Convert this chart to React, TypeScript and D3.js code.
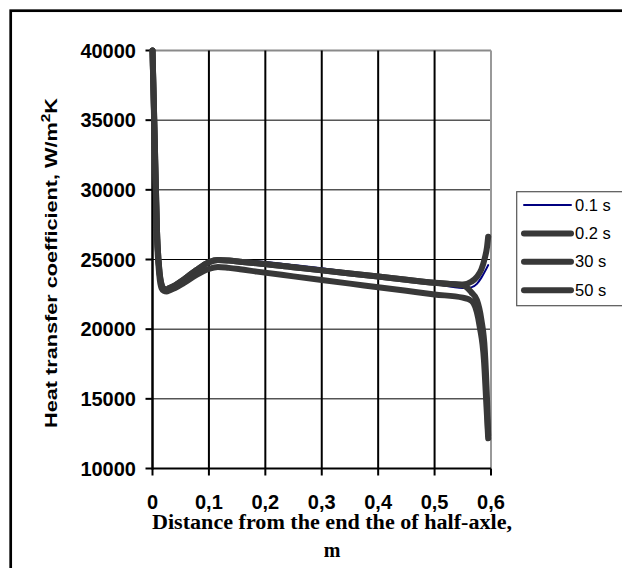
import React from "react";
import * as d3 from "d3";

// ---------- data ----------
const xTicks = [0, 0.1, 0.2, 0.3, 0.4, 0.5, 0.6];
const xTickLabels = ["0", "0,1", "0,2", "0,3", "0,4", "0,5", "0,6"];
const yTicks = [10000, 15000, 20000, 25000, 30000, 35000, 40000];

const distBase = [0, 0.004, 0.008, 0.012, 0.016, 0.02, 0.025, 0.03, 0.04, 0.055, 0.078, 0.1, 0.116, 0.135, 0.155, 0.185, 0.25, 0.3, 0.35, 0.4, 0.45, 0.5, 0.55];

const s01Base = [40000, 33500, 27000, 24300, 23200, 22900, 22850, 22950, 23150, 23550, 24250, 24800, 24980, 24960, 24930, 24870, 24600, 24370, 24110, 23830, 23540, 23250, 22950];
const s01TailX = [0.565, 0.575, 0.583, 0.59, 0.595];
const s01TailY = [23000, 23250, 23700, 24200, 24600];

const s02Base = [40000, 33500, 27000, 24300, 23200, 22900, 22850, 22950, 23150, 23550, 24250, 24800, 24960, 24920, 24840, 24730, 24440, 24220, 24000, 23780, 23550, 23330, 23200];
const s02TailX = [0.565, 0.575, 0.583, 0.589, 0.593, 0.595];
const s02TailY = [23400, 23750, 24300, 25100, 25900, 26640];

const s30Base = [40000, 33500, 27000, 24300, 23200, 22900, 22850, 22950, 23150, 23550, 24250, 24800, 24960, 24920, 24840, 24730, 24440, 24220, 24000, 23780, 23550, 23330, 23150];
const s30TailX = [0.557, 0.565, 0.575, 0.583, 0.589, 0.593, 0.595];
const s30TailY = [23000, 22650, 22090, 20660, 18500, 14920, 12400];

const s50Base = [40000, 33000, 26500, 23900, 22950, 22750, 22700, 22780, 22950, 23300, 23900, 24330, 24470, 24400, 24300, 24130, 23790, 23530, 23270, 23010, 22750, 22490, 22260];
const s50TailX = [0.56, 0.569, 0.58, 0.5875, 0.592, 0.595];
const s50TailY = [22150, 21860, 20180, 17790, 14440, 12170];

const seriesNames = ["0.1 s", "0.2 s", "30 s", "50 s"];
const seriesColors = ["#000080", "#383838", "#383838", "#383838"];
const seriesWidths = [2, 6, 6, 6];

type Pt = [number, number];
const build = (bx: number[], by: number[], tx: number[], ty: number[]): Pt[] =>
  bx.map((x, i) => [x, by[i]] as Pt).concat(tx.map((x, i) => [x, ty[i]] as Pt));

const seriesData: Pt[][] = [
  build(distBase, s01Base, s01TailX, s01TailY),
  build(distBase, s02Base, s02TailX, s02TailY),
  build(distBase, s30Base, s30TailX, s30TailY),
  build(distBase, s50Base, s50TailX, s50TailY),
];

// ---------- layout ----------
const W = 622;
const H = 568;
const L = 152.5, R = 491, T = 50.5, B = 468.5;

export default function App() {
  const x = d3.scaleLinear().domain([0, 0.6]).range([L, R]);
  const y = d3.scaleLinear().domain([10000, 40000]).range([B, T]);
  const line = d3
    .line<Pt>()
    .x((d) => x(d[0]))
    .y((d) => y(d[1]))
    .curve(d3.curveMonotoneX);

  const sans = "'Liberation Sans', Arial, sans-serif";
  const serif = "'Liberation Serif', 'Times New Roman', serif";

  return (
    <svg
      width={W}
      height={H}
      style={{ position: "absolute", left: 0, top: 0, background: "#fff" }}
    >
      <rect x={0} y={0} width={W} height={H} fill="#fff" />
      {/* outer frame */}
      <rect x={10.7} y={10.7} width={800} height={800} fill="none" stroke="#000" strokeWidth={2.7} />

      {/* horizontal gridlines */}
      {yTicks.slice(1, -1).map((t) => (
        <line key={"hg" + t} x1={L} x2={R} y1={y(t)} y2={y(t)} stroke="#000" strokeWidth={1} />
      ))}
      {/* top plot border */}
      <line x1={L} x2={R} y1={y(40000)} y2={y(40000)} stroke="#8a8a8a" strokeWidth={2} />
      {/* vertical gridlines */}
      {xTicks.slice(1, -1).map((t) => (
        <line key={"vg" + t} x1={x(t)} x2={x(t)} y1={T} y2={B} stroke="#000" strokeWidth={2} />
      ))}
      {/* right plot border */}
      <line x1={x(0.6)} x2={x(0.6)} y1={T} y2={B} stroke="#999" strokeWidth={2} />

      {/* axes */}
      <line x1={L} x2={R} y1={B} y2={B} stroke="#000" strokeWidth={2} />
      <line x1={L} x2={L} y1={T - 1} y2={B + 1} stroke="#000" strokeWidth={2.5} />
      {yTicks.map((t) => (
        <line key={"yt" + t} x1={L - 7} x2={L} y1={y(t)} y2={y(t)} stroke="#000" strokeWidth={2} />
      ))}
      {xTicks.map((t) => (
        <line key={"xt" + t} x1={x(t)} x2={x(t)} y1={B} y2={B + 7} stroke="#000" strokeWidth={2} />
      ))}

      {/* tick labels */}
      {yTicks.map((t) => (
        <text
          key={"yl" + t}
          x={136}
          y={y(t) + 7}
          textAnchor="end"
          fontFamily={sans}
          fontWeight="bold"
          fontSize={20}
          fill="#000"
        >
          {t}
        </text>
      ))}
      {xTicks.map((t, i) => (
        <text
          key={"xl" + t}
          x={x(t)}
          y={509}
          textAnchor="middle"
          fontFamily={sans}
          fontWeight="bold"
          fontSize={20}
          fill="#000"
        >
          {xTickLabels[i]}
        </text>
      ))}

      {/* series */}
      {seriesData.map((d, i) => (
        <path
          key={"s" + i}
          d={line(d) || ""}
          fill="none"
          stroke={seriesColors[i]}
          strokeWidth={seriesWidths[i]}
          strokeLinejoin="round"
          strokeLinecap="round"
        />
      ))}

      {/* y title */}
      <text
        transform="translate(57,428) rotate(-90)"
        fontFamily={sans}
        fontWeight="bold"
        fontSize={17}
        fill="#000"
        textLength={330}
        lengthAdjust="spacingAndGlyphs"
      >
        Heat transfer coefficient, W/m
        <tspan fontSize={12} dy={-7}>2</tspan>
        <tspan dy={7}>K</tspan>
      </text>

      {/* x title */}
      <text
        x={332}
        y={529}
        textAnchor="middle"
        fontFamily={serif}
        fontWeight="bold"
        fontSize={20}
        fill="#000"
        textLength={360}
        lengthAdjust="spacingAndGlyphs"
      >
        Distance from the end the of half-axle,
      </text>
      <text
        x={332}
        y={557}
        textAnchor="middle"
        fontFamily={serif}
        fontWeight="bold"
        fontSize={20}
        fill="#000"
      >
        m
      </text>

      {/* legend */}
      <rect x={516.7} y={191.7} width={120} height={114} fill="#fff" stroke="#555" strokeWidth={1.2} />
      {seriesNames.map((n, i) => {
        const cy = 205 + i * 28.4;
        return (
          <g key={"lg" + i}>
            <line
              x1={524}
              x2={571}
              y1={cy}
              y2={cy}
              stroke={seriesColors[i]}
              strokeWidth={seriesWidths[i]}
              strokeLinecap="round"
            />
            <text x={575} y={cy + 5.5} fontFamily={sans} fontSize={16.5} fill="#000">
              {n}
            </text>
          </g>
        );
      })}
    </svg>
  );
}
